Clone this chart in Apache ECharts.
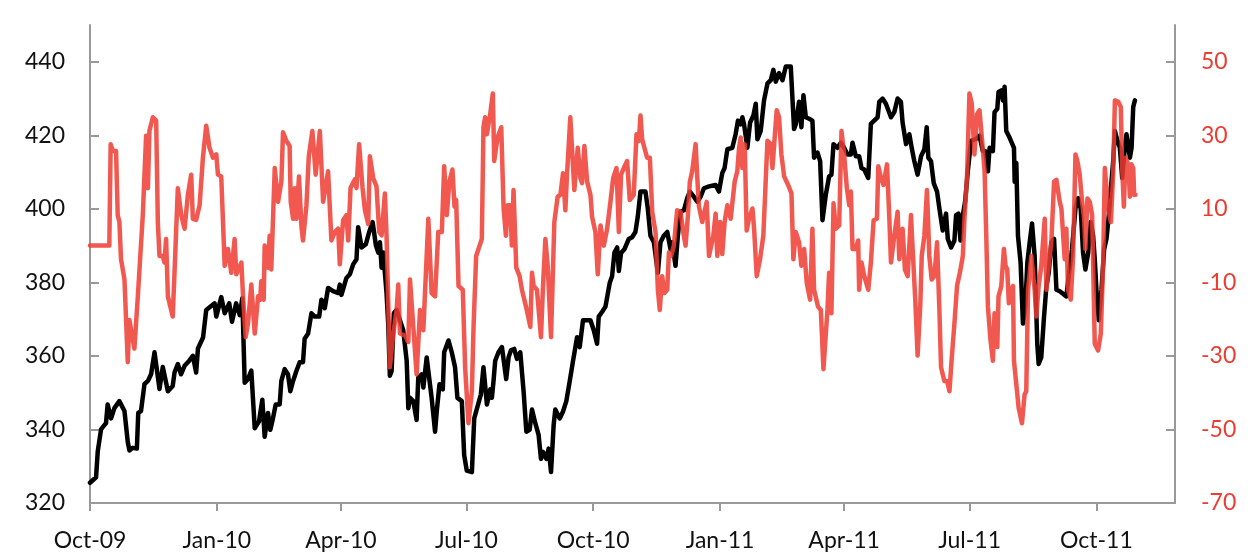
<!DOCTYPE html>
<html>
<head>
<meta charset="utf-8">
<script src="https://cdn.jsdelivr.net/npm/echarts@6/dist/echarts.min.js"></script>
<style>
  html, body { margin: 0; padding: 0; background: #fff; }
  #chart { width: 1259px; height: 557px; }
</style>
</head>
<body>
<div id="chart"></div>
<script>
// day offsets counted from startDate
const startDate = '2009-10-01'
const endDate = '2011-11-27'
const tickDates = ['2009-10-01', '2010-01-01', '2010-04-01', '2010-07-01', '2010-10-01', '2011-01-01', '2011-04-01', '2011-07-01', '2011-10-01']
const tickLabels = ['Oct-09', 'Jan-10', 'Apr-10', 'Jul-10', 'Oct-10', 'Jan-11', 'Apr-11', 'Jul-11', 'Oct-11']
const leftTicks = [320, 340, 360, 380, 400, 420, 440]
const rightTicks = [-70, -50, -30, -10, 10, 30, 50]

const blackDays = [0, 4.4, 5.6, 8, 11.6, 12.8, 15.3, 17.7, 21.3, 25, 27.4, 28.6, 31, 34, 35, 37, 39.5, 42, 44.3, 46.8, 50.4, 52.8, 56.5, 60, 61.3, 63.7, 66, 68.6, 72, 74.6, 77, 78.3, 82, 84.3, 90.4, 91.6, 95.2, 97.7, 101, 103, 106, 108.6, 110.5, 112.2, 114.6, 117, 119.5, 122.6,
  125, 126.7, 129.1, 130.8, 132.7, 134.7, 137.6, 138.8, 141.2, 143.6, 145.3, 147.3, 149.7, 152.1, 154.5, 155.7, 158.2, 160.6, 163, 166.2, 167.9, 170.3, 172.7, 176.3, 180, 181.2, 182.4, 186, 188.5, 190.9, 193.3, 194.5, 197, 200.1, 202.5, 205, 207.4, 209.1, 210.3, 211.5, 212.7, 215.1, 216.3, 217.5, 218.8, 220.4, 222.4, 224.8, 227.2, 229.7, 230.9, 232.1, 234.5, 236.9, 238.1, 240.6, 241.8, 244.2, 245.4, 247.8, 250.3,
  251.5, 253.5, 255.9, 256.9, 260, 262.4, 264.8, 266.5, 269.7, 271.4, 273.3, 277, 278.7, 281.1, 283.5, 285.4, 287.9, 290.3, 291.5, 292.7, 293.9, 296.3, 298.8, 301.9, 303.6, 305.3, 307.7, 309.7, 312.1, 314.5, 316.5, 318.9, 320.6, 323, 325.4, 327.1, 328.6, 331, 332.7, 334.4, 336.3, 337.5, 340.7, 343.1, 345.5, 348, 350.4, 353.3, 355.2, 357.6, 363, 365.4, 367.8, 369, 371.5, 373.9, 377, 378.7, 380.4, 382.4, 383.6,
  385.2, 387.6, 390.8, 393.2, 395.6, 397.3, 399.3, 402.9, 404.6, 406.5, 409, 411.9, 413.8, 416.2, 418.7, 421.1, 422.3, 424.7, 426.4, 428.4, 430.8, 433.2, 435.1, 438, 440.5, 442.9, 445.3, 449, 453.8, 456.2, 458.6, 460.3, 462.3, 465.9, 468.3, 470, 472, 473.2, 474.4, 476.8, 478.8, 481.2, 482.9, 484.1, 486.5, 488.9, 491.4, 493.8, 495.7, 497.4, 499.8, 502.3, 504.7, 508.3, 510.7, 512,
  514.3, 516, 517.5, 519.2, 521.6, 524, 525.2, 527.7, 529.6, 531.3, 533.7, 536.1, 537.8, 539.3, 542.2, 544.6, 547, 549.5, 551.9, 553.1, 555.5, 557.9, 559.6, 561.6, 564.5, 566.4, 568.8, 571.3, 572.5, 574.9, 577.3, 581, 583.4, 585.8, 588.2, 589.4, 591.9, 594.3, 596, 597.9, 600.3, 602.8, 605.2, 606.9, 608.1, 610, 612, 614.4, 616.1, 618.5, 620.9, 622.2, 624.6, 627, 628.2, 629.9, 631.4, 633.1, 634.8, 636.7, 639.1,
  642.8, 645.2, 647.6, 649.3, 651.3, 652.5, 654.9, 656.1, 658.1, 659, 661, 662.2, 663.4, 664.6, 667, 670.2, 670.7, 671.9, 673.1, 675, 676.7, 678.4, 679.9, 681.6, 683.3, 685.2, 687.1, 688.1, 690, 692, 693.7, 695.4, 697.3, 699.3, 701, 703.4, 708.2, 709.9, 712.3, 714.8, 716.7, 718.6, 720.3, 722, 724, 725.9, 727.6, 728.8, 730, 731.7, 733.7, 735.6, 737.3, 739, 740.5, 742.2, 743.4, 744.6, 747, 748.7, 750.6, 751.8, 753.1, 754.3, 755.5, 756.7, 757.9]
const blackValues = [325.5, 327, 334, 340, 341.7, 346.8, 343, 345.8, 347.7, 345, 336.6, 334.3, 335, 334.8, 344.5, 345, 352.3, 353.2, 355, 361, 351, 357, 350.4, 351.8, 355.5, 357.8, 355, 357.3, 358.7, 360, 355.5, 362, 365, 372.5, 374.3, 370.7, 376, 371.6, 374.3, 369.3, 374.3, 371.1, 375.7, 352.7, 353.7, 356, 340.3, 342.2,
  348.1, 338, 344.5, 339.9, 343, 346.8, 346.8, 353.2, 356.4, 355, 350.4, 353.2, 355.9, 358.3, 358.3, 364.7, 366.1, 371.6, 370.7, 370.7, 375.3, 373, 378.5, 377.6, 377.1, 379.4, 376.6, 381.2, 382.2, 384.9, 386.3, 395, 389.5, 390.4, 393.7, 396.4, 390, 388.1, 390.9, 384, 388.1, 377.1, 368.8, 354.6, 355.9, 371.6, 372.5, 369.7, 367, 358.7, 345.8, 348.6, 347.7, 342.6, 354.1, 355, 351.4, 359.6, 359.6, 348.6, 339.4,
  344.9, 352.3, 350.9, 361, 364.2, 361, 356.9, 348.6, 347.7, 333, 328.8, 328.4, 343, 346.3, 349.5, 356.9, 346.8, 350.9, 348.6, 353.2, 358.7, 361, 362.4, 353.7, 359.6, 361.5, 361.9, 359.2, 361, 350.4, 339.4, 339.9, 345.4, 341.7, 338.5, 332, 333.9, 332, 334.8, 328.4, 341.2, 345.4, 343, 344.9, 347.7, 353.2, 358.7, 365.1, 362.4, 369.7, 369.7, 367, 363.3, 370.7, 372, 373.4, 379.9, 381.7, 388.1, 389.5, 383.1,
  388, 389, 391.8, 392.3, 393.7, 397.8, 404.7, 404.7, 400.1, 392.7, 390.9, 382.6, 390.9, 392.7, 393.7, 389, 390.9, 384.5, 392.7, 399.2, 399.6, 402.9, 404.7, 403.3, 401.9, 403.3, 405.6, 406.1, 406.5, 404.7, 409.7, 411.1, 416.2, 416.6, 420.3, 424, 423, 424.9, 423, 416.6, 423.5, 425.4, 428.6, 418.9, 421.2, 429.5, 434.1, 435, 437.8, 434.6, 436.9, 435, 438.7, 438.7, 421.7, 423.1,
  429.1, 422.2, 430.9, 424.9, 424.5, 424, 413.9, 415.3, 413, 396.9, 403.8, 408.8, 409.3, 417.6, 416.6, 418, 416.6, 414.8, 414.8, 418, 414.3, 414.3, 411.1, 410.7, 408.4, 423.1, 424, 424.9, 429.1, 430, 428.6, 424.9, 426.3, 430, 429.1, 423.5, 417.6, 420.3, 416.6, 413, 409.3, 414.3, 416.2, 422.2, 413.9, 413, 407, 404.7, 400.1, 394.1, 398.7, 391.8, 389.5, 391.4, 398.3, 398.7, 391.4, 398.3, 402, 410.2, 418.5,
  419, 419.9, 415.7, 415.7, 410.2, 416.6, 415.7, 426.3, 427.2, 431.8, 432.2, 429.5, 433.2, 421.2, 419.4, 416.6, 407.4, 412.5, 392.7, 385.4, 368.8, 373.4, 385.4, 390.9, 396, 387.2, 363.3, 357.8, 359.6, 370.7, 378.9, 382.6, 390.9, 391.8, 378, 377.6, 376.2, 381.7, 389, 400.1, 402.9, 400.1, 388.1, 383.5, 388, 396.4, 392.7, 386.3, 378, 369.7, 378, 389, 391.8, 398.3, 405.6, 413, 421.2, 419.4, 416.6, 408.4, 416.6, 420.3, 420.8, 413.9, 416.6, 427.7, 429.5]

const redDays = [0, 14, 15, 16.5, 18.9, 20.1, 21.3, 22.5, 25, 27.4, 28.6, 29.8, 32.2, 34.7, 38.3, 40.7, 42, 43.1, 45.6, 48, 49.2, 50.4, 52.8, 54, 55.2, 56.5, 60, 61.3, 63.7, 66.2, 68.6, 71, 73.4, 74.6, 77, 79.5, 81.9, 84.3, 86.7, 89.2, 91.6, 92.8, 95.2, 97.7, 100, 102.5, 104.9, 106.1, 109.8, 111, 112.9, 114.6, 117, 119.5, 121.9,
  123.5, 124.2, 126, 126.7, 129.1, 130.3, 131.5, 134, 136.4, 138.8, 140, 142.4, 144.8, 145.6, 147.3, 148.5, 149.7, 151.6, 153.3, 154.5, 157, 158.7, 161.3, 163.7, 166.7, 169.1, 172.7, 175.1, 177.6, 180, 181.2, 183.6, 186, 187.3, 189, 192.1, 193.3, 195.2, 197.7, 199.4, 201.8, 203, 205.4, 207.8, 209.8, 211.5, 213.9, 215.1, 217.5, 220, 222.4, 223.6, 224.8, 228.4, 230.9, 232.1, 234, 236.9, 239.4, 241.8, 243, 245.4, 247.8, 250.3, 252.6,
  255.2, 256.9, 258.8, 260.7, 262.9, 264.4, 265.6, 267.3, 270.4, 272.1, 274.5, 277, 278.2, 280.1, 281.8, 284.2, 285.4, 286.6, 287.9, 290.3, 292.2, 293.2, 295.6, 298.3, 300, 301.7, 302.9, 304.8, 306, 307.2, 309.2, 311.6, 313.3, 316.5, 319.4, 320.6, 321.8, 324.2, 327.1, 328.6, 330.3, 332, 334.4, 336.8, 339.2, 341.2, 343.1, 344.8, 346, 348.4, 351.3, 353.8, 355.7, 356.9, 358.6, 360.6, 363, 364.2, 366.6, 368.3, 370.3, 372.7, 375.1, 377.5, 379.5, 381.9, 383.6,
  385.2, 387.2, 389.6, 391.5, 394.4, 396.4, 398.1, 399.3, 400.5, 404.1, 406.1, 407.8, 410.2, 411.9, 413.3, 415, 416.7, 418.7, 419.9, 421.6, 423.5, 425.9, 428.4, 430.3, 432, 433.7, 435.1, 436.8, 439.3, 440.5, 441.7, 444.1, 447.3, 449, 452.1, 453.8, 455, 457, 458.6, 460.3, 462.3, 464.7, 467.6, 469.5, 470.8, 472, 473.2, 474.9, 476.3, 478, 480.5, 481.7, 483.6, 486, 488.4, 490.1, 491.4, 493.8, 495, 496.2, 498.1, 499.8, 501.5, 503.5, 506.4, 508.8, 510.2, 511.9,
  514.3, 516, 518, 519.9, 522.3, 524, 525.2, 528.1, 530.1, 532, 534.9, 536.1, 537.8, 539.3, 541, 543.4, 545.1, 547, 549, 550.7, 551.9, 553.1, 555.5, 557.2, 557.9, 559.6, 561.6, 564.5, 566.4, 568.4, 570.8, 571.8, 573.7, 575.6, 578.1, 579.8, 581, 583.4, 585.8, 587, 589.4, 591.1, 593.1, 595.5, 596.7, 598.6, 600.3, 602.3, 603.3, 605.2, 607.1, 608.8, 610.5, 612.5, 614.4, 616.1, 617.3, 619.7, 621.7, 623.4, 625.1, 627, 628.9, 631.4, 633.1, 634.3, 636.2, 637.9, 639.6, 641.5, 643.5,
  645.2, 646.9, 648.9, 650.1, 651.3, 653.2, 654.9, 656.1, 658.1, 659, 661, 662.9, 664.1, 665.3, 666.5, 668.2, 669.5, 670.2, 671.9, 673.6, 676, 677.9, 679.1, 680.4, 682.8, 685.2, 686.4, 688.1, 690, 692.5, 693.7, 695.4, 697.3, 699.3, 701, 703.4, 704.6, 707, 708.2, 709.4, 711.4, 713.1, 714.8, 716.2, 717.9, 719.6, 721.1, 722, 723.5, 725.2, 726.9, 728.8, 731.2, 733.2, 734.9, 736.1, 738.5, 740.5, 742.2, 743.4, 745.8, 747.7, 748.7, 749.9, 751.1, 753.1, 754.3, 755.5, 756.7, 757.4, 758.3]
const redValues = [0, 0, 27.6, 25.7, 25.7, 8.3, 6.5, -3.7, -9.2, -31.7, -20.2, -23, -28, -13.8, 8.3, 29.9, 15.6, 31.2, 34.9, 34, 6.4, -2.8, -2.8, -4.6, 1.8, -13.8, -19.3, -7.4, 15.6, 8.3, 4.6, 13.8, 19.3, 7.3, 7, 11, 23.9, 32.6, 26.6, 23.9, 24.8, 19.3, 18.8, -5.5, -0.9, -7.4, 1.8, -7.8, -4.6, -13.8, -24.9, -21.2, -10.6, -23.9, -13.8,
  -14.7, -9.7, -14.7, 0, -6, 2.7, -6.5, 21.1, 11.9, 17.4, 30.8, 28.5, 27.1, 11.9, 7.3, 15.6, 7.3, 18.8, 5.5, 1.4, 11, 24.3, 31.2, 19.3, 31.2, 11.9, 20.2, 1.4, 3.7, 4.6, -5.1, 6.9, 8.3, 1.4, 15.7, 18, 15.7, 27.6, 15.7, 9.7, 5.9, 24.3, 18.4, 16.1, 3.7, 2.8, 14.2, 2.8, -33.1, -23.9, -17.5, -10.6, -23.9, -24.4, -26.2, -9.2, -19.3, -35, -17.5, -23, -23.5, 7.3, -12.9, -13.8, 3.7,
  3.7, 21.6, 8.3, 17.4, 20.7, 10.6, 12.4, -11, -12, -33.1, -48.3, -39.6, -22.1, -2.8, -0.9, 1.8, 32.2, 34.9, 30.3, 35.8, 41.4, 23, 29.4, 32.2, 10.1, 2.7, 11, 11, 0, 15.1, -6, -8.3, -12, -17, -22.1, -7.4, -11, -12, -24.9, -11, 1.8, -5.5, -24.9, 6.4, 13.3, 13.8, 19.7, 9.6, 19.3, 34.9, 15.1, 26.6, 18.4, 17, 27.1, 17.4, 13.8, 7.8, 3.7, -7.8, 5.5, 0, 4.6, 11.9, 18.4, 21.1, 3.7,
  19.3, 21.1, 23, 12.4, 13.8, 30.3, 28.5, 35.4, 28.9, 23.9, 23.9, 9.2, 3.7, -12, -17.5, -8.3, -12.9, -12, -1.9, -2.8, 0, 9.6, 9.2, 3.7, 0, 8.3, 17.4, 20.2, 27.6, 18.4, 10.6, 6.4, 11.9, -2.8, 2.7, 8.7, -2.8, 6.4, -2.3, 6.4, 11, 7.3, 17.4, 20.2, 26.6, 29.4, 21.1, 27.6, 4.1, 7.3, 10.1, 4.6, -8.3, -3.7, 2.7, 17.4, 28.5, 27.6, 21.1, 20.7, 36.8, 34.9, 24.8, 18.8, 16.5, 14.2, -3.7, 3.7,
  0.9, -5.5, -0.9, -10.1, -14.7, 4.6, -12, -16.6, -17.5, -33.6, -17.5, -7.4, -18.4, 11.5, 4.6, 5.5, 31.2, 24.8, 15.6, 11, 14.7, -0.9, -0.9, 1.4, -12, -4.6, -8.3, -12, -4.6, 6.9, 7.3, 21.6, 18.4, 16.5, 22.1, 7.3, -4.6, 2.7, 9.2, -3.7, 4.6, -6.5, -8.3, 8.3, -0.9, -14.7, -29.9, -15.7, -2.8, 2.7, 15.1, -2.8, -9.2, -8.3, 0.9, -17.5, -33.1, -36.8, -36.8, -39.6, -30.4, -21.2, -11, -6.5, -2.8, 7.3, 19.3, 41.4, 38.6, 24.8, 35.8,
  36.8, 29.4, 20.2, 2.7, -16.6, -25.8, -31.3, -18.4, -27.6, -13.8, -11, -0.9, -5.5, -6.4, -15.7, -12, -11, -31.3, -37.7, -44.2, -48.3, -40.5, -39.6, -12, -2.8, -12, -19.3, -11, -5.5, 7.3, -12, -5.5, 0.9, 17.4, 17.9, 11.9, 10.1, -3.7, 4.6, -12, -14.7, -2.8, 24.8, 23, 19.3, 11.9, 7.3, -0.9, 12.8, 11.9, 8.3, -26.7, -28.5, -23.9, -4.6, 21.1, 10.1, 6.4, 20.2, 39.5, 39.1, 37.7, 21.1, 10.6, 23.9, 22.1, 13.3, 22.1, 21, 13.8, 13.8]

function dayOffset(s) {
  return Math.round((Date.parse(s) - Date.parse(startDate)) / 86400000)
}

const tickDays = tickDates.map(dayOffset)
const axisGray = '#999999'
const labelFont = 'Lato, "Open Sans", sans-serif'
const redColor = '#EE3B30'

const chart = echarts.init(document.getElementById('chart'))

chart.setOption({
  animation: false,
  grid: { left: 90, right: 84, top: 25, bottom: 54, containLabel: false },
  xAxis: {
    type: 'value',
    min: 0,
    max: dayOffset(endDate),
    splitLine: { show: false },
    axisLine: { show: true, onZero: false, lineStyle: { color: axisGray, width: 2 } },
    axisTick: { show: true, inside: false, length: 8, customValues: tickDays, lineStyle: { color: axisGray, width: 2 } },
    axisLabel: {
      customValues: tickDays,
      formatter: (v) => tickLabels[tickDays.indexOf(Math.round(v))] || '',
      color: '#111',
      fontSize: 23,
      fontFamily: labelFont,
      margin: 26
    }
  },
  yAxis: [
    {
      type: 'value',
      position: 'left',
      min: 320,
      max: 450,
      splitLine: { show: false },
      axisLine: { show: true, onZero: false, lineStyle: { color: axisGray, width: 2 } },
      axisTick: { show: true, inside: true, length: 9, customValues: leftTicks, lineStyle: { color: axisGray, width: 2 } },
      axisLabel: { customValues: leftTicks, color: '#111', fontSize: 23, fontFamily: labelFont, margin: 25 }
    },
    {
      type: 'value',
      position: 'right',
      min: -70,
      max: 60,
      splitLine: { show: false },
      axisLine: { show: true, onZero: false, lineStyle: { color: axisGray, width: 2 } },
      axisTick: { show: true, inside: true, length: 9, customValues: rightTicks, lineStyle: { color: axisGray, width: 2 } },
      axisLabel: { customValues: rightTicks, color: redColor, fontSize: 23, fontFamily: labelFont, margin: 26 }
    }
  ],
  series: [
    {
      type: 'line',
      yAxisIndex: 0,
      data: blackDays.map((d, i) => [d, blackValues[i]]),
      showSymbol: false,
      symbol: 'none',
      lineStyle: { color: '#000', width: 4.5, join: 'round', cap: 'round' },
      z: 2
    },
    {
      type: 'line',
      yAxisIndex: 1,
      data: redDays.map((d, i) => [d, redValues[i]]),
      showSymbol: false,
      symbol: 'none',
      lineStyle: { color: redColor, width: 4.5, opacity: 0.85, join: 'round', cap: 'round' },
      z: 3
    }
  ]
})
</script>
</body>
</html>
